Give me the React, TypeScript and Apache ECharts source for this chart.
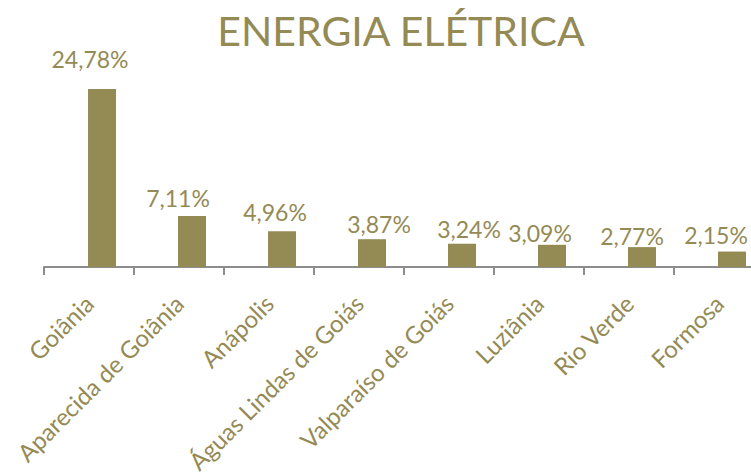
import React, { useEffect, useRef } from "react";
import * as echarts from "echarts";

const categories = [
  "Goiânia",
  "Aparecida de Goiânia",
  "Anápolis",
  "Águas Lindas de Goiás",
  "Valparaíso de Goiás",
  "Luziânia",
  "Rio Verde",
  "Formosa",
];
const values = [24.78, 7.11, 4.96, 3.87, 3.24, 3.09, 2.77, 2.15];
const emptySeries = categories.map(() => null);

// manual label nudges (style only), as in the original workbook
const labelDx = [-12, -14, -7, 7, 7, -12, -10, -16];
const labelDy = [-13, -1, -3, 1, 2, 5, 5, 0];

const OLIVE = "#948A54";
const FONT = "Lato";

export default function App() {
  const ref = useRef<HTMLDivElement>(null);
  useEffect(() => {
    if (!ref.current) return;
    const chart = echarts.init(ref.current, undefined, { renderer: "svg" });
    chart.setOption({
      animation: false,
      title: {
        text: "ENERGIA ELÉTRICA",
        left: 396,
        textAlign: "center",
        top: 5,
        textStyle: { color: OLIVE, fontSize: 41, fontWeight: "normal", fontFamily: FONT },
      },
      grid: {
        left: 44,
        right: 6,
        top: 51.5,
        bottom: 209,
        containLabel: false,
        outerBoundsMode: "none",
      },
      xAxis: {
        type: "category",
        data: categories,
        axisLine: { lineStyle: { color: "#8C8C8C", width: 2 } },
        axisTick: { show: true, length: 8, lineStyle: { color: "#8C8C8C", width: 2 } },
        axisLabel: {
          rotate: 45,
          interval: 0,
          margin: 32,
          color: OLIVE,
          fontSize: 24,
          fontFamily: FONT,
        },
      },
      yAxis: {
        type: "value",
        min: 0,
        max: 30,
        show: false,
        splitLine: { show: false },
      },
      series: [
        { type: "bar", data: emptySeries, barWidth: 28, barGap: "-7%", silent: true },
        {
          type: "bar",
          barWidth: 28,
          barGap: "-7%",
          itemStyle: { color: OLIVE },
          data: values.map((v, i) => ({
            value: v,
            label: { offset: [labelDx[i], labelDy[i]] },
          })),
          label: {
            show: true,
            position: "top",
            distance: 5,
            color: OLIVE,
            fontSize: 23,
            fontFamily: FONT,
            formatter: (p: any) => p.value.toFixed(2).replace(".", ",") + "%",
          },
        },
      ],
    });
    return () => chart.dispose();
  }, []);
  return (
    <div
      ref={ref}
      style={{ position: "fixed", left: 0, top: 0, width: 770, height: 476, background: "#fff" }}
    />
  );
}
